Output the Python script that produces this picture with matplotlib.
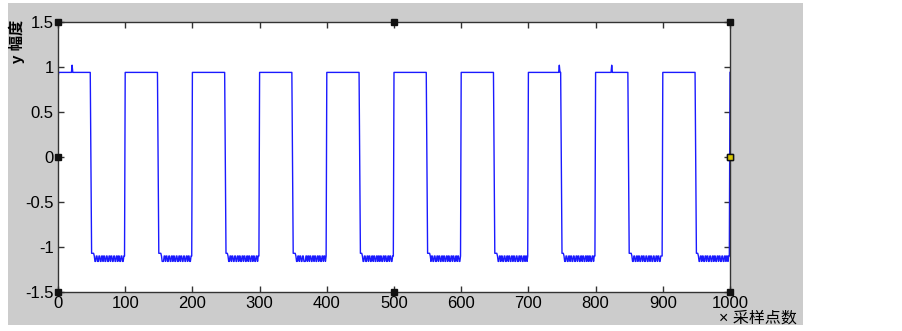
import numpy as np
import matplotlib
matplotlib.use('Agg')
from matplotlib import pyplot as plt
from matplotlib.patches import Rectangle

# signal: 10 periods of 100 samples, 0..1000
N_SAMPLES = 1001
START_LEVEL = 0.88
HIGH_LEVEL = 0.94
EDGE_LEVEL = -0.05
SHELF_LEVEL = -1.07
LOW_LEVEL = -1.10
DIP_LEVEL = -1.16
SPIKE_LEVEL = 1.02

fall_at = [49, 149, 249, 349, 449, 549, 649, 749, 849, 949]
rise_at = [100, 200, 300, 400, 500, 600, 700, 800, 900, 1000]
spike_at = [21, 746, 824]
shelf_len = [4, 4, 3, 4, 3, 4, 4, 3, 4, 3]
# offsets (from fall_at) of samples that sit on the lower noise level
dips = [
    [6, 7, 10, 11, 14, 15, 18, 21, 22, 25, 26, 29, 32, 33, 36, 37, 40, 43, 44, 47, 48],
    [6, 7, 8, 11, 14, 15, 18, 19, 22, 25, 26, 29, 30, 33, 36, 37, 40, 41, 44, 47, 48],
    [5, 6, 9, 12, 13, 16, 17, 20, 23, 24, 27, 30, 31, 34, 37, 38, 41, 44, 45, 48],
    [6, 7, 10, 13, 14, 17, 18, 19, 22, 25, 28, 29, 32, 35, 36, 39, 42, 43, 46, 49],
    [5, 6, 9, 10, 13, 16, 17, 20, 23, 24, 27, 30, 33, 34, 37, 40, 41, 44, 47, 48],
    [6, 9, 10, 13, 14, 17, 20, 21, 24, 27, 28, 31, 34, 35, 38, 41, 42, 45, 48, 49],
    [6, 7, 10, 13, 14, 17, 18, 21, 24, 25, 28, 31, 32, 35, 36, 39, 42, 43, 46, 49],
    [5, 6, 9, 10, 13, 16, 17, 20, 21, 24, 27, 28, 31, 34, 35, 38, 41, 44, 45, 48],
    [6, 7, 10, 11, 14, 17, 18, 21, 24, 25, 28, 29, 32, 35, 36, 39, 40, 43, 46, 47],
    [5, 6, 9, 12, 13, 16, 19, 20, 23, 24, 27, 30, 31, 34, 37, 38, 41, 42, 45, 48],
]

x_ticks = [0, 100, 200, 300, 400, 500, 600, 700, 800, 900, 1000]
x_ticklabels = ['0', '100', '200', '300', '400', '500', '600', '700', '800', '900', '1000']
y_ticks = [-1.5, -1, -0.5, 0, 0.5, 1, 1.5]
y_ticklabels = ['-1.5', '-1', '-0.5', '0', '0.5', '1', '1.5']

# handles MATLAB draws on a selected axes
handle_x = [0, 500, 1000, 0, 1000, 0, 500, 1000]
handle_y = [1.5, 1.5, 1.5, 0, 0, -1.5, -1.5, -1.5]


def build_signal():
    y = np.full(N_SAMPLES, HIGH_LEVEL)
    y[0] = START_LEVEL
    for k in range(len(fall_at)):
        f = fall_at[k]
        r = rise_at[k]
        y[f] = EDGE_LEVEL
        y[f + 1:r] = LOW_LEVEL
        y[f + 1:f + 1 + shelf_len[k]] = SHELF_LEVEL
        for d in dips[k]:
            if f + d < r:
                y[f + d] = DIP_LEVEL
    for s in spike_at:
        y[s] = SPIKE_LEVEL
    return y


W, H = 903, 331
fig = plt.figure(figsize=(W / 100, H / 100), dpi=100, facecolor='white')
fig.patches.append(Rectangle((8 / W, 1 - 325 / H), (803 - 8) / W, (325 - 3) / H,
                             transform=fig.transFigure, facecolor='#cccccc',
                             edgecolor='none', zorder=-10))

ax = fig.add_axes([58 / W, 1 - 292 / H, (730 - 58) / W, (292 - 22) / H])
ax.set_zorder(1)
ax.set_facecolor('white')

samples = np.arange(N_SAMPLES)
ax.plot(samples, build_signal(), color='#1a1aff', linewidth=1.0, antialiased=True)

ax.set_xlim(0, 1000)
ax.set_ylim(-1.5, 1.5)
ax.set_xticks(x_ticks)
ax.set_xticklabels(x_ticklabels)
ax.set_yticks(y_ticks)
ax.set_yticklabels(y_ticklabels)
ax.tick_params(direction='in', length=4, width=1, color='#333333', top=True, right=True,
               labelsize=12, pad=3)
for lab in ax.get_xticklabels() + ax.get_yticklabels():
    lab.set_family('Liberation Sans')
for sp in ax.spines.values():
    sp.set_color('#333333')
    sp.set_linewidth(1.0)

ax.plot(handle_x, handle_y, linestyle='none', marker='s', markersize=4,
        markerfacecolor='#111111', markeredgecolor='#111111', clip_on=False, zorder=6)
ax.plot([1000], [0], linestyle='none', marker='s', markersize=4,
        markerfacecolor='#d8c800', markeredgecolor='#111111', clip_on=False, zorder=7)

fig.text(17 / W, 1 - 20 / H, 'y 幅度', rotation=90, ha='center', va='top', fontsize=11,
         family=['Liberation Sans', 'Noto Sans CJK SC'], fontweight='bold')
fig.text(719 / W, 1 - 318 / H, '× 采样点数', ha='left', va='center', fontsize=11.5,
         family=['Liberation Sans', 'Noto Sans CJK SC'])

plt.savefig('out.png', dpi=100, facecolor='white')
plt.close()
